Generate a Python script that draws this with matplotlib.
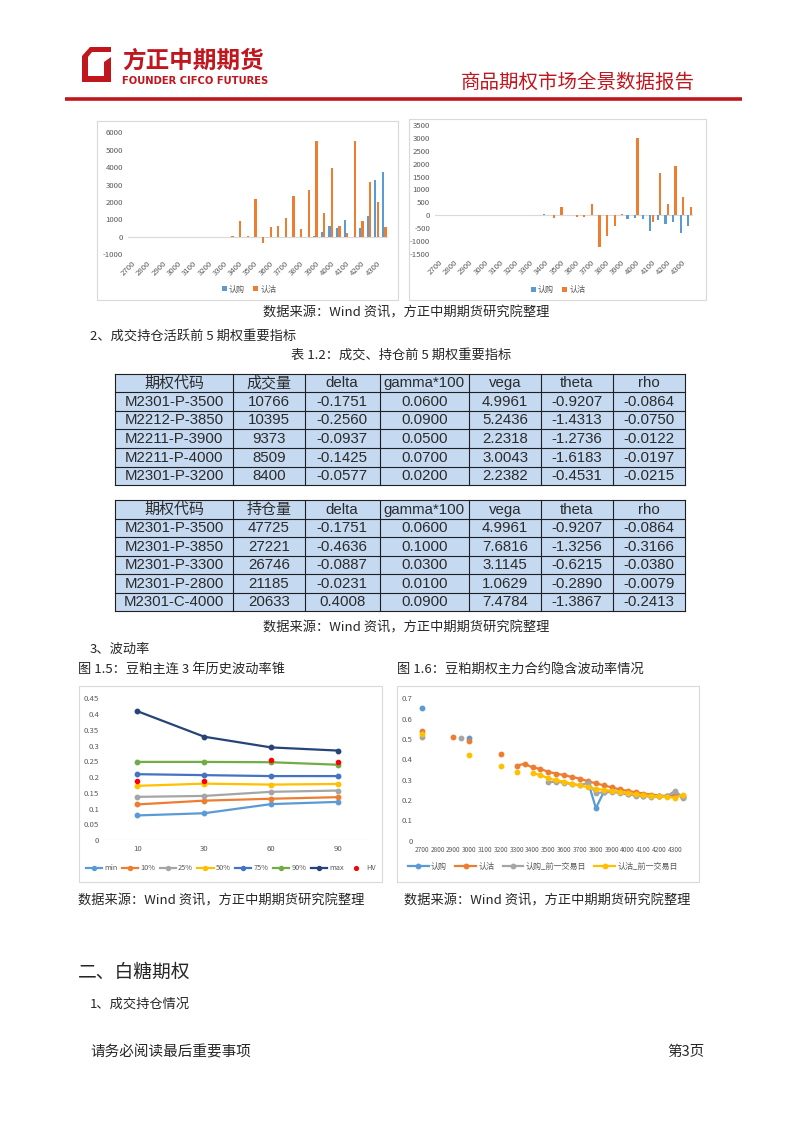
import matplotlib
matplotlib.use('Agg')
import matplotlib.pyplot as plt
import numpy as np
from matplotlib.patches import Rectangle, Polygon

plt.rcParams['font.family'] = ['Noto Sans CJK SC', 'DejaVu Sans']
plt.rcParams['axes.unicode_minus'] = False
NAN = np.nan

# ---------------- data ----------------
strikes = [2700, 2750, 2800, 2850, 2900, 2950, 3000, 3050, 3100, 3150, 3200, 3250,
           3300, 3350, 3400, 3450, 3500, 3550, 3600, 3650, 3700, 3750, 3800, 3850,
           3900, 3950, 4000, 4050, 4100, 4150, 4200, 4250, 4300, 4350]

# chart 1 (volume)
vol_call = [0, 0, 0, 0, 0, 0, 0, 0, 0, 0, 0, 0,
            0, 0, 0, 0, 0, 0, 0, 0, 0, 0, 0, 0,
            30, 270, 630, 515, 975, -25, 535, 1200, 3290, 3730]
vol_put = [-20, 0, 0, 0, 10, 0, 5, 0, 0, 0, 5, 0,
           10, 60, 935, 30, 2160, -340, 555, 650, 1110, 2350, 480, 2675,
           5520, 1375, 3955, 630, 230, 5485, 935, 3155, 2025, 555]

# chart 2 (open interest change)
oi_call = [0, 0, 0, 0, 0, 0, 0, 0, 0, 0, 0, 0,
           0, 0, 30, 0, 0, 0, 0, 0, 0, 0, 0, 0,
           0, -135, -110, -135, -630, -200, -340, -265, -695, -410]
oi_put = [0, 0, 0, 0, 0, 0, 0, 0, 0, 0, 0, 0,
          0, 0, 0, -110, 330, 0, -80, -90, 435, -1250, -825, -435,
          30, 0, 3000, 0, -265, 1630, 420, 1900, 710, 305]

# tables
tbl_cols1 = ['期权代码', '成交量', 'delta', 'gamma*100', 'vega', 'theta', 'rho']
tbl_rows1 = [
    ['M2301-P-3500', '10766', '-0.1751', '0.0600', '4.9961', '-0.9207', '-0.0864'],
    ['M2212-P-3850', '10395', '-0.2560', '0.0900', '5.2436', '-1.4313', '-0.0750'],
    ['M2211-P-3900', '9373', '-0.0937', '0.0500', '2.2318', '-1.2736', '-0.0122'],
    ['M2211-P-4000', '8509', '-0.1425', '0.0700', '3.0043', '-1.6183', '-0.0197'],
    ['M2301-P-3200', '8400', '-0.0577', '0.0200', '2.2382', '-0.4531', '-0.0215'],
]
tbl_cols2 = ['期权代码', '持仓量', 'delta', 'gamma*100', 'vega', 'theta', 'rho']
tbl_rows2 = [
    ['M2301-P-3500', '47725', '-0.1751', '0.0600', '4.9961', '-0.9207', '-0.0864'],
    ['M2301-P-3850', '27221', '-0.4636', '0.1000', '7.6816', '-1.3256', '-0.3166'],
    ['M2301-P-3300', '26746', '-0.0887', '0.0300', '3.1145', '-0.6215', '-0.0380'],
    ['M2301-P-2800', '21185', '-0.0231', '0.0100', '1.0629', '-0.2890', '-0.0079'],
    ['M2301-C-4000', '20633', '0.4008', '0.0900', '7.4784', '-1.3867', '-0.2413'],
]

# chart 3 (HV cone)
cone_x = ['10', '30', '60', '90']
cone_min = [0.078, 0.085, 0.114, 0.121]
cone_p10 = [0.113, 0.125, 0.131, 0.136]
cone_p25 = [0.137, 0.140, 0.153, 0.157]
cone_p50 = [0.172, 0.179, 0.176, 0.178]
cone_p75 = [0.209, 0.206, 0.203, 0.203]
cone_p90 = [0.248, 0.248, 0.247, 0.239]
cone_max = [0.409, 0.328, 0.294, 0.284]
cone_hv = [0.188, 0.188, 0.254, 0.247]

# chart 4 (implied vol)
iv_call = [0.651, NAN, NAN, NAN, NAN, NAN, 0.505, NAN, NAN, NAN, NAN, NAN,
           NAN, NAN, NAN, NAN, NAN, NAN, NAN, NAN, NAN, 0.290, 0.160, 0.240,
           0.245, 0.238, 0.230, 0.225, 0.222, 0.218, 0.218, 0.218, 0.225, 0.215]
iv_put = [0.539, NAN, NAN, NAN, 0.511, NAN, 0.488, NAN, NAN, NAN, 0.428, NAN,
          0.369, 0.378, 0.360, 0.353, 0.338, 0.330, 0.322, 0.313, 0.305, 0.292, 0.282, 0.272,
          0.262, 0.252, 0.245, 0.238, 0.232, 0.227, 0.222, 0.220, 0.220, 0.222]
iv_call_prev = [0.511, NAN, NAN, NAN, NAN, 0.505, NAN, NAN, NAN, NAN, NAN, NAN,
                NAN, NAN, NAN, NAN, 0.288, 0.290, 0.285, 0.277, 0.272, 0.285, 0.235, 0.237,
                0.240, 0.235, 0.228, 0.222, 0.222, 0.215, 0.218, 0.220, 0.245, 0.212]
iv_put_prev = [0.525, NAN, NAN, NAN, NAN, NAN, 0.420, NAN, NAN, NAN, 0.369, NAN,
               0.339, NAN, 0.333, 0.322, 0.307, 0.296, 0.290, 0.280, 0.272, 0.263, 0.255, 0.250,
               0.245, 0.240, 0.234, 0.228, 0.224, 0.220, 0.218, 0.215, 0.212, 0.226]

# ---------------- figure ----------------
W, H = 802, 1133
fig = plt.figure(figsize=(W / 100, H / 100), dpi=100)
bg = fig.add_axes([0, 0, 1, 1])
bg.set_xlim(0, W)
bg.set_ylim(H, 0)
bg.axis('off')


def add_ax(x0, y0, x1, y1):
    a = fig.add_axes([x0 / W, 1 - y1 / H, (x1 - x0) / W, (y1 - y0) / H])
    a.set_facecolor('none')
    return a


RED = '#C0161E'
TXT = '#262626'
GRAYT = '#595959'
C_BLUE = '#5B9BD5'
C_ORANGE = '#ED7D31'
C_GRAY = '#A5A5A5'
C_YELLOW = '#FFC000'

# ---- header ----
bg.add_patch(Polygon([(82, 56), (90, 47), (111, 47), (111, 52), (92, 52), (88, 57),
                      (88, 76), (104, 76), (104, 62), (111, 57), (111, 82), (82, 82)],
                     closed=True, facecolor=RED, edgecolor='none'))
bg.text(122, 61, '方正中期期货', fontsize=17, fontweight='bold', color=RED,
        va='center', ha='left')
bg.text(122, 80.5, 'FOUNDER CIFCO FUTURES', fontsize=7.2, fontweight='bold', color=RED,
        va='center', ha='left', family=['DejaVu Sans'])
bg.text(695, 82, '商品期权市场全景数据报告', fontsize=14, color=RED, va='center', ha='right')
bg.plot([65, 742], [99, 99], color=RED, lw=2.6, solid_capstyle='butt')

# ---- chart boxes ----
for (x0, y0, x1, y1) in [(97, 121, 398, 300), (409, 119, 706, 300),
                         (79, 686, 382, 882), (397, 686, 699, 882)]:
    bg.add_patch(Rectangle((x0, y0), x1 - x0, y1 - y0, fill=False,
                           edgecolor='#D9D9D9', lw=0.8))


def style_axis(a, size=5.6):
    for s in ['top', 'right', 'left', 'bottom']:
        a.spines[s].set_visible(False)
    a.tick_params(length=0, colors=GRAYT, labelsize=size)


xi = np.arange(len(strikes))

# ---- chart 1 ----
ax1 = add_ax(128, 132.3, 388, 254.3)
ax1.bar(xi - 0.16, vol_call, width=0.3, color=C_BLUE, label='认购')
ax1.bar(xi + 0.16, vol_put, width=0.3, color=C_ORANGE, label='认沽')
ax1.axhline(0, color='#D9D9D9', lw=0.8, zorder=0)
ax1.set_xlim(-0.5, len(strikes) - 0.5)
ax1.set_ylim(-1000, 6000)
ax1.set_yticks(range(-1000, 6001, 1000))
ax1.set_xticks(xi[::2])
ax1.set_xticklabels([str(s) for s in strikes[::2]], rotation=45, ha='right',
                    rotation_mode='anchor')
style_axis(ax1)
ax1.legend(loc='center', bbox_to_anchor=(249 / W, 1 - 289 / H), bbox_transform=fig.transFigure,
           ncol=2, frameon=False, fontsize=5.8, handlelength=0.6, handleheight=0.6,
           columnspacing=1.0, handletextpad=0.3, labelcolor=GRAYT)

# ---- chart 2 ----
ax2 = add_ax(435, 125.3, 693.3, 253.7)
ax2.bar(xi - 0.16, oi_call, width=0.3, color=C_BLUE, label='认购')
ax2.bar(xi + 0.16, oi_put, width=0.3, color=C_ORANGE, label='认沽')
ax2.axhline(0, color='#D9D9D9', lw=0.8, zorder=0)
ax2.set_xlim(-0.5, len(strikes) - 0.5)
ax2.set_ylim(-1500, 3500)
ax2.set_yticks(range(-1500, 3501, 500))
ax2.set_xticks(xi[::2])
ax2.set_xticklabels([str(s) for s in strikes[::2]], rotation=45, ha='right',
                    rotation_mode='anchor')
style_axis(ax2)
ax2.legend(loc='center', bbox_to_anchor=(558 / W, 1 - 289.5 / H), bbox_transform=fig.transFigure,
           ncol=2, frameon=False, fontsize=5.8, handlelength=0.6, handleheight=0.6,
           columnspacing=1.0, handletextpad=0.3, labelcolor=GRAYT)

# ---- texts ----
SRC = '数据来源：Wind 资讯，方正中期期货研究院整理'
bg.text(406, 313, SRC, fontsize=9.5, color=TXT, ha='center', va='center')
bg.text(90, 336, '2、成交持仓活跃前 5 期权重要指标', fontsize=9.5, color=TXT, ha='left', va='center')
bg.text(401, 355, '表 1.2：成交、持仓前 5 期权重要指标', fontsize=9.5, color=TXT, ha='center', va='center')

# ---- tables ----
col_edges = [115, 233, 304.5, 379.5, 469, 541, 612.7, 685]


def draw_table(top, rowh, cols, rows):
    nrow = len(rows) + 1
    bottom = top + rowh * nrow
    bg.add_patch(Rectangle((col_edges[0], top), col_edges[-1] - col_edges[0], bottom - top,
                           facecolor='#C5D9F1', edgecolor='none'))
    for k in range(nrow + 1):
        y = top + rowh * k
        bg.plot([col_edges[0], col_edges[-1]], [y, y], color='#1F1F1F', lw=0.8)
    for xe in col_edges:
        bg.plot([xe, xe], [top, bottom], color='#1F1F1F', lw=0.8)
    allrows = [cols] + rows
    for r, row in enumerate(allrows):
        yc = top + rowh * (r + 0.5)
        for c, val in enumerate(row):
            xc = (col_edges[c] + col_edges[c + 1]) / 2
            fam = ['Noto Sans CJK SC', 'DejaVu Sans'] if (r == 0 and c < 2) else ['Liberation Sans', 'DejaVu Sans']
            bg.text(xc, yc + 0.5, val, fontsize=10.8, color='#2B2B2B', ha='center', va='center',
                    family=fam)


draw_table(373.5, 18.6, tbl_cols1, tbl_rows1)
draw_table(500, 18.5, tbl_cols2, tbl_rows2)

bg.text(406, 628, SRC, fontsize=9.5, color=TXT, ha='center', va='center')
bg.text(90, 649, '3、波动率', fontsize=9.5, color=TXT, ha='left', va='center')
bg.text(78, 669, '图 1.5：豆粕主连 3 年历史波动率锥', fontsize=9.5, color=TXT, ha='left', va='center')
bg.text(397, 669, '图 1.6：豆粕期权主力合约隐含波动率情况', fontsize=9.5, color=TXT, ha='left', va='center')

# ---- chart 3 ----
ax3 = add_ax(104, 698.3, 371.3, 840)
cx = np.arange(len(cone_x))
cone_series = [('min', cone_min, C_BLUE), ('10%', cone_p10, C_ORANGE), ('25%', cone_p25, C_GRAY),
               ('50%', cone_p50, C_YELLOW), ('75%', cone_p75, '#4472C4'),
               ('90%', cone_p90, '#70AD47'), ('max', cone_max, '#264478')]
for name, vals, col in cone_series:
    ax3.plot(cx, vals, color=col, lw=1.6, marker='o', ms=3.2, label=name)
ax3.plot(cx, cone_hv, linestyle='none', marker='o', ms=3.0, color='#FF0000', label='HV')
ax3.axhline(0, color='#D9D9D9', lw=0.8)
ax3.set_xlim(-0.5, len(cone_x) - 0.5)
ax3.set_ylim(0, 0.45)
yt3 = [0, 0.05, 0.1, 0.15, 0.2, 0.25, 0.3, 0.35, 0.4, 0.45]
ax3.set_yticks(yt3)
ax3.set_yticklabels([f'{v:g}' for v in yt3])
ax3.set_xticks(cx)
ax3.set_xticklabels(cone_x)
style_axis(ax3)
ax3.legend(loc='center', bbox_to_anchor=(231 / W, 1 - 868.5 / H), bbox_transform=fig.transFigure,
           ncol=8, frameon=False, fontsize=5.3, handlelength=2.2, columnspacing=0.6,
           handletextpad=0.3, labelcolor=GRAYT, markerscale=0.9)

# ---- chart 4 ----
ax4 = add_ax(417.7, 698.3, 687, 840.7)
for name, vals, col in [('认购', iv_call, C_BLUE), ('认沽', iv_put, C_ORANGE),
                        ('认购_前一交易日', iv_call_prev, C_GRAY),
                        ('认沽_前一交易日', iv_put_prev, C_YELLOW)]:
    ax4.plot(xi, vals, color=col, lw=1.6, marker='o', ms=3.2, label=name)
ax4.axhline(0, color='#D9D9D9', lw=0.8)
ax4.set_xlim(-0.5, len(strikes) - 0.5)
ax4.set_ylim(0, 0.7)
yt4 = [0, 0.1, 0.2, 0.3, 0.4, 0.5, 0.6, 0.7]
ax4.set_yticks(yt4)
ax4.set_yticklabels([f'{v:g}' for v in yt4])
ax4.set_xticks(xi[::2])
ax4.set_xticklabels([str(s) for s in strikes[::2]])
style_axis(ax4)
ax4.tick_params(axis='x', labelsize=4.7)
ax4.legend(loc='center', bbox_to_anchor=(543 / W, 1 - 866.5 / H), bbox_transform=fig.transFigure,
           ncol=4, frameon=False, fontsize=5.8, handlelength=2.6, columnspacing=1.0,
           handletextpad=0.3, labelcolor=GRAYT)

bg.text(78, 901, SRC, fontsize=9.5, color=TXT, ha='left', va='center')
bg.text(404, 901, SRC, fontsize=9.5, color=TXT, ha='left', va='center')

bg.text(78, 972, '二、白糖期权', fontsize=13.5, color=TXT, ha='left', va='center')
bg.text(90, 1004, '1、成交持仓情况', fontsize=9.5, color=TXT, ha='left', va='center')

bg.text(90, 1052, '请务必阅读最后重要事项', fontsize=10.5, color=TXT, ha='left', va='center')
bg.text(705, 1052, '第3页', fontsize=10.5, color=TXT, ha='right', va='center')

fig.savefig('out.png', dpi=100)
